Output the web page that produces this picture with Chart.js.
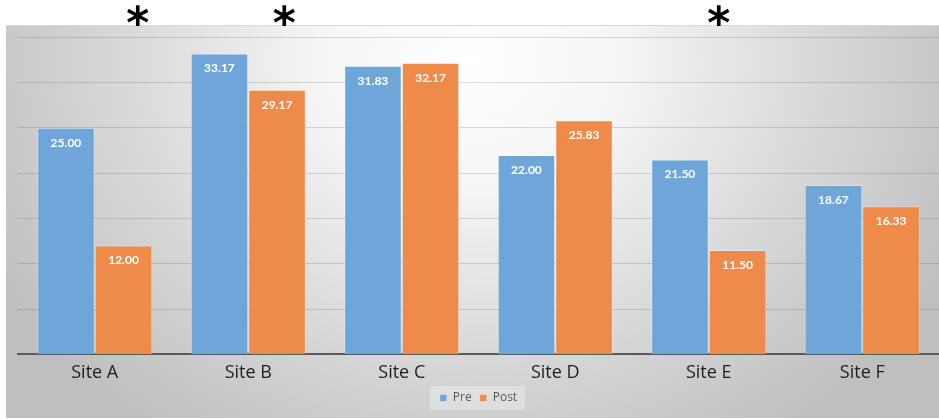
<!DOCTYPE html>
<html>
<head>
<meta charset="utf-8">
<script src="https://cdn.jsdelivr.net/npm/chart.js@4.4.0/dist/chart.umd.min.js"></script>
<style>
  html, body { margin: 0; padding: 0; background: #fff; }
  #wrap { width: 939px; height: 419px; }
</style>
</head>
<body>
<div id="wrap"><canvas id="siteChart"></canvas></div>
<script>
// chart data
var sites = ["Site A", "Site B", "Site C", "Site D", "Site E", "Site F"];
var preValues = [25.00, 33.17, 31.83, 22.00, 21.50, 18.67];
var postValues = [12.00, 29.17, 32.17, 25.83, 11.50, 16.33];
var significant = ["Site A", "Site B", "Site E"];

// gradient panel behind the chart
var panelBg = {
    id: 'panelBg',
    beforeDraw: function(chart) {
        var c = chart.ctx;
        var x0 = 6, y0 = 25, x1 = chart.width, y1 = chart.height - 1;
        c.save();
        c.translate(470, 60);
        c.scale(1, 0.85);
        var g = c.createRadialGradient(0, 0, 0, 0, 0, 540);
        g.addColorStop(0, "#ffffff");
        g.addColorStop(0.28, "#f5f5f5");
        g.addColorStop(0.7, "#d4d4d4");
        g.addColorStop(1, "#bfbfbf");
        c.fillStyle = g;
        c.fillRect(x0 - 470, (y0 - 60) / 0.85, x1 - x0 + 470, (y1 - y0) / 0.85 + 500);
        c.restore();
        c.save();
        c.fillStyle = "#ffffff";
        c.fillRect(0, 0, chart.width, y0);
        c.fillRect(0, 0, x0, chart.height);
        c.fillRect(0, y1, chart.width, 2);
        c.strokeStyle = "#d9d9d9";
        c.lineWidth = 1;
        c.beginPath();
        c.moveTo(x0, y0 + 0.5);
        c.lineTo(x1, y0 + 0.5);
        c.stroke();
        // soft box behind legend
        var lg = chart.legend;
        if (lg && lg.legendHitBoxes.length) {
            var hb = lg.legendHitBoxes;
            var lx = hb[0].left - 10, rx = hb[hb.length - 1].left + hb[hb.length - 1].width + 8;
            c.fillStyle = "rgba(255,255,255,0.3)";
            c.fillRect(lx, hb[0].top - 6, rx - lx, hb[0].height + 12);
        }
        c.restore();
    }
};

// value labels and asterisks
var barText = {
    id: 'barText',
    afterDatasetsDraw: function(chart) {
        var c = chart.ctx;
        c.save();
        c.fillStyle = "#ffffff";
        c.font = "bold 12px Lato";
        c.textAlign = "center";
        c.textBaseline = "middle";
        chart.data.datasets.forEach(function(ds, i) {
            chart.getDatasetMeta(i).data.forEach(function(bar, j) {
                c.fillText(ds.data[j].toFixed(2), bar.x, bar.y + 15);
            });
        });
        var xs = chart.scales.x;
        var nudge = chart.options.plugins.barText.nudge;
        c.fillStyle = "#000000";
        c.font = "bold 44px 'DejaVu Sans'";
        significant.forEach(function(s, k) {
            var px = xs.getPixelForValue(sites.indexOf(s)) + nudge[k];
            c.fillText("*", px, 27);
        });
        c.restore();
    }
};

var ctx = document.getElementById("siteChart");

var chartData = {
    labels: sites,
    datasets: [{
        label: "Pre",
        data: preValues,
        backgroundColor: "#6fa6d9",
        borderColor: "rgba(255,255,255,0.35)",
        borderWidth: 1
    }, {
        label: "Post",
        data: postValues,
        backgroundColor: "#ee8b4b",
        borderColor: "rgba(255,255,255,0.35)",
        borderWidth: 1
    }]
};

var config = {
    type: 'bar',
    data: chartData,
    options: {
        responsive: true,
        maintainAspectRatio: false,
        animation: false,
        categoryPercentage: 0.75,
        barPercentage: 1.0,
        layout: { padding: { top: 37, left: 18, right: 0, bottom: 5 } },
        scales: {
            x: {
                grid: { display: false },
                border: { display: true, color: "#595959", width: 2 },
                ticks: { color: "#1f1f1f", font: { family: "Open Sans", size: 18 }, padding: 0 }
            },
            y: {
                min: 0,
                max: 35,
                ticks: { display: false, stepSize: 5 },
                grid: { color: "rgba(0,0,0,0.13)", drawTicks: false },
                border: { display: false }
            }
        },
        plugins: {
            tooltip: { enabled: false },
            barText: { nudge: [43, 36, 10] },
            legend: {
                position: 'bottom',
                labels: {
                    color: "#595959",
                    font: { family: "Open Sans", size: 12 },
                    boxWidth: 7,
                    boxHeight: 7,
                    padding: 8
                }
            }
        }
    },
    plugins: [panelBg, barText]
};

var barChart = new Chart(ctx, config);
</script>
</body>
</html>
